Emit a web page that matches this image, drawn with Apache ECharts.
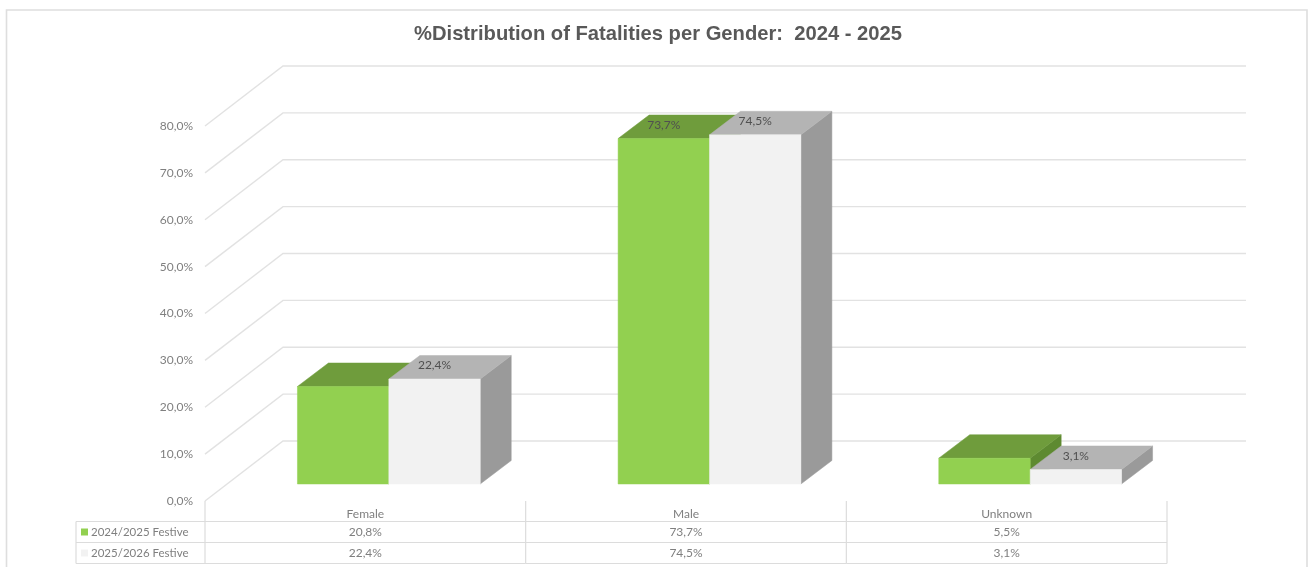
<!DOCTYPE html>
<html>
<head>
<meta charset="utf-8">
<title>%Distribution of Fatalities per Gender</title>
<script src="https://cdn.jsdelivr.net/npm/echarts@6/dist/echarts.min.js"></script>
<style>
  html, body { margin: 0; padding: 0; background: #fff; }
  #chart { width: 1308px; height: 567px; }
</style>
</head>
<body>
<div id="chart"></div>
<script>
const categories = ["Female", "Male", "Unknown"]
const seriesNames = ["2024/2025 Festive", "2025/2026 Festive"]
const festive2024 = [20.8, 73.7, 5.5]
const festive2025 = [22.4, 74.5, 3.1]
const labelled2024 = [false, true, false]
const labelled2025 = [true, true, true]
const yTicks = [0, 10, 20, 30, 40, 50, 60, 70, 80]

const FONT = "Lato, 'Open Sans', sans-serif"
const TEXT_COLOR = "#7f7f7f"
const LINE_COLOR = "#e2e2e2"
const TABLE_LINE = "#dcdcdc"

// pseudo 3d: offsets of the back wall and of the bars inside the box
const WALL_DX = 78
const WALL_DY = -60
const WALL_RIGHT_DX = 79
const BAR_DX = 23.5
const BAR_DY = -17
const DEPTH_DX = 31
const DEPTH_DY = -23.5
const BAR_RATIO = 0.285

const FACES = [
  { front: "#92d050", top: "#6f9c3c", side: "#5e8a31" },
  { front: "#f2f2f2", top: "#b4b4b4", side: "#9a9a9a" }
]

const ROW_Y = [20.5, 41.5, 62.5]
const TABLE_LEFT = 76

function percent(value) {
  return value.toFixed(1).replace(".", ",") + "%"
}

function poly(points, fill) {
  return { type: "polygon", shape: { points }, style: { fill, stroke: fill, lineWidth: 0.5 } }
}

function line(x1, y1, x2, y2, stroke) {
  return { type: "line", shape: { x1, y1, x2, y2 }, style: { stroke, lineWidth: 1.2 } }
}

function cellText(x, y, text, align, size) {
  return {
    type: "text",
    x,
    y,
    style: { text, fill: TEXT_COLOR, font: `${size || 12}px ${FONT}`, textAlign: align || "center", textVerticalAlign: "middle" }
  }
}

function renderWall(params, api) {
  const band = api.size([1, 0])[0]
  const y = api.coord([0, api.value(1)])[1]
  const left = api.coord([0, 0])[0] - band / 2
  const right = api.coord([2, 0])[0] + band / 2
  return {
    type: "polyline",
    shape: { points: [[left, y], [left + WALL_DX, y + WALL_DY], [right + WALL_RIGHT_DX, y + WALL_DY]] },
    style: { stroke: LINE_COLOR, lineWidth: 1.4, fill: "none" }
  }
}

function barRenderer(seriesIndex, flags) {
  return (params, api) => {
    const faces = FACES[seriesIndex]
    const center = api.coord([api.value(0), 0])
    const top = api.coord([api.value(0), api.value(1)])
    const width = api.size([1, 0])[0] * BAR_RATIO
    const x0 = center[0] + BAR_DX + (seriesIndex === 0 ? -width : 0)
    const x1 = x0 + width
    const y0 = center[1] + BAR_DY
    const y1 = top[1] + BAR_DY
    const children = [
      poly([[x1, y0], [x1 + DEPTH_DX, y0 + DEPTH_DY], [x1 + DEPTH_DX, y1 + DEPTH_DY], [x1, y1]], faces.side),
      poly([[x0, y1], [x1, y1], [x1 + DEPTH_DX, y1 + DEPTH_DY], [x0 + DEPTH_DX, y1 + DEPTH_DY]], faces.top),
      poly([[x0, y0], [x1, y0], [x1, y1], [x0, y1]], faces.front)
    ]
    if (flags[params.dataIndex]) {
      children.push({
        type: "text",
        x: (x0 + x1) / 2,
        y: y1 - 13.5,
        z2: 10,
        style: {
          text: percent(api.value(1)),
          fill: "#505050",
          font: `12px ${FONT}`,
          textAlign: "center",
          textVerticalAlign: "middle"
        }
      })
    }
    return { type: "group", children }
  }
}

function renderTable(params, api) {
  const i = api.value(0)
  const band = api.size([1, 0])[0]
  const [cx, base] = api.coord([i, 0])
  const right = cx + band / 2
  const left = cx - band / 2
  const children = [line(right, base, right, base + ROW_Y[2], TABLE_LINE)]

  ROW_Y.forEach((rowY) => children.push(line(left, base + rowY, right, base + rowY, TABLE_LINE)))
  children.push(cellText(cx, base + 31, percent(festive2024[i])))
  children.push(cellText(cx, base + 52, percent(festive2025[i])))

  // row headers only once, left of the first column
  if (i === 0) {
    children.push(line(left, base, left, base + ROW_Y[2], TABLE_LINE))
    children.push(line(TABLE_LEFT, base + ROW_Y[0], TABLE_LEFT, base + ROW_Y[2], TABLE_LINE))
    ROW_Y.forEach((rowY) => children.push(line(TABLE_LEFT, base + rowY, left, base + rowY, TABLE_LINE)))
    seriesNames.forEach((name, row) => {
      const y = base + 31 + row * 21
      children.push({
        type: "rect",
        shape: { x: TABLE_LEFT + 5, y: y - 3.5, width: 7, height: 7 },
        style: { fill: FACES[row].front }
      })
      children.push(cellText(TABLE_LEFT + 15, y, name, "left", 11.5))
    })
  }
  return { type: "group", children }
}

const chart = echarts.init(document.getElementById("chart"), null, { renderer: "canvas" })

chart.setOption({
  animation: false,
  backgroundColor: "#ffffff",
  title: {
    text: "%Distribution of Fatalities per Gender:  2024 - 2025",
    left: 653,
    top: 19,
    textAlign: "center",
    textStyle: { fontFamily: "'Liberation Sans', Arial, sans-serif", fontSize: 20.2, fontWeight: "bold", color: "#595959" }
  },
  grid: { left: 205, right: 141, top: 126, bottom: 66 },
  xAxis: {
    type: "category",
    data: categories,
    axisLine: { show: false },
    axisTick: { show: false },
    axisLabel: { color: TEXT_COLOR, fontFamily: FONT, fontSize: 12, margin: 7 }
  },
  yAxis: {
    type: "value",
    min: 0,
    max: 80,
    interval: 10,
    axisLine: { show: false },
    axisTick: { show: false },
    splitLine: { show: false },
    axisLabel: {
      color: TEXT_COLOR,
      fontFamily: FONT,
      fontSize: 12,
      margin: 12,
      padding: [3, 0, 0, 0],
      formatter: (value) => percent(value)
    }
  },
  graphic: [{
    type: "polyline",
    silent: true,
    shape: { points: [[6.5, 567], [6.5, 10], [1307, 10], [1307, 567]] },
    style: { stroke: "#dedede", lineWidth: 1.6, fill: "none" }
  }],
  series: [
    {
      name: "walls",
      type: "custom",
      z: 1,
      silent: true,
      renderItem: renderWall,
      data: yTicks.map((tick) => [0, tick])
    },
    {
      name: seriesNames[0],
      type: "custom",
      z: 2,
      renderItem: barRenderer(0, labelled2024),
      data: festive2024.map((value, i) => [i, value])
    },
    {
      name: seriesNames[1],
      type: "custom",
      z: 3,
      renderItem: barRenderer(1, labelled2025),
      data: festive2025.map((value, i) => [i, value])
    },
    {
      name: "table",
      type: "custom",
      z: 4,
      silent: true,
      renderItem: renderTable,
      data: categories.map((_name, i) => [i, 0])
    }
  ]
})
</script>
</body>
</html>
